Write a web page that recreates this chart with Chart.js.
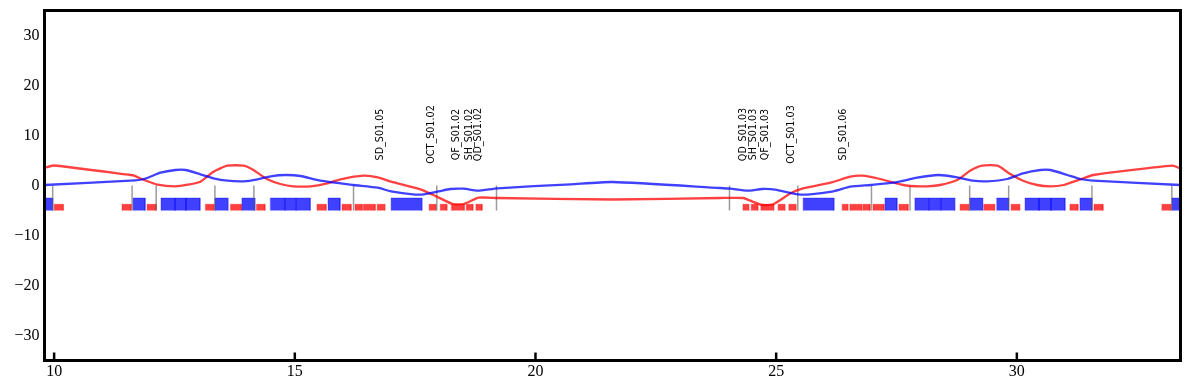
<!DOCTYPE html>
<html>
<head>
<meta charset="utf-8">
<title>Optics</title>
<script src="https://cdn.jsdelivr.net/npm/chart.js@4"></script>
<style>
  html, body { margin: 0; padding: 0; background: #fff; }
  canvas { display: block; }
</style>
</head>
<body>
<canvas id="opticsChart" width="1189" height="390"></canvas>
<script>
// Tick labels
const xTicks = [10, 15, 20, 25, 30];
const yTicks = [-30, -20, -10, 0, 10, 20, 30];

// Red curve
const redX = [9.8, 9.99, 11.59, 11.66, 11.87, 12.15, 12.52, 12.77, 13.04, 13.31, 13.6, 13.94, 14.14, 14.43, 14.7, 14.97, 15.33, 15.68, 15.95, 16.43, 16.72, 17.0, 17.61, 17.88, 18.28, 18.51, 18.82, 19.21, 21.6, 23.84, 24.32, 24.46, 24.71, 24.94, 25.3, 25.54, 26.13, 26.54, 26.79, 27.16, 27.58, 27.79, 28.14, 28.41, 28.76, 29.03, 29.28, 29.6, 29.82, 30.13, 30.42, 30.7, 30.97, 31.32, 31.59, 33.23, 33.4];
const redY = [3.5, 4.0, 2.1, 1.96, 1.1, 0.16, -0.16, 0.16, 0.76, 2.76, 3.96, 3.96, 3.1, 1.24, 0.3, -0.16, -0.16, 0.44, 1.24, 1.96, 1.64, 0.76, -0.76, -1.9, -3.7, -3.7, -2.44, -2.5, -2.8, -2.5, -2.5, -3.04, -3.9, -3.76, -1.56, -0.64, 0.56, 1.76, 1.96, 1.3, 0.24, -0.1, -0.16, 0.1, 1.1, 2.96, 3.96, 3.96, 2.56, 0.96, 0.1, -0.16, 0.1, 1.24, 2.1, 3.96, 3.4];

// Blue curve
const blueX = [9.8, 11.59, 11.87, 12.21, 12.52, 12.73, 13.04, 13.31, 13.6, 13.94, 14.23, 14.5, 14.81, 15.12, 15.53, 16.22, 16.72, 17.0, 17.61, 17.96, 18.23, 18.51, 18.8, 19.21, 20.73, 21.6, 23.84, 24.05, 24.4, 24.71, 24.98, 25.5, 26.19, 26.54, 26.96, 27.44, 27.93, 28.37, 28.76, 29.09, 29.38, 29.8, 30.13, 30.49, 30.7, 31.05, 31.32, 31.59, 33.4];
const blueY = [0.1, 0.96, 1.3, 2.56, 3.1, 3.1, 2.24, 1.44, 0.96, 0.84, 1.24, 1.84, 2.1, 1.9, 0.96, 0.1, -0.44, -1.16, -1.84, -1.24, -0.7, -0.64, -1.04, -0.56, 0.24, 0.7, -0.5, -0.64, -1.04, -0.7, -0.84, -1.84, -1.16, -0.24, 0.1, 0.56, 1.56, 2.1, 1.64, 0.96, 0.84, 1.3, 2.44, 3.1, 3.1, 2.1, 1.3, 0.96, 0.1];

// Blue magnets: start, end
const blueStart = [9.6, 11.64, 12.22, 12.51, 12.74, 13.34, 13.9, 14.49, 14.8, 15.03, 15.69, 17.0, 25.56, 27.26, 27.88, 28.17, 28.42, 29.02, 29.58, 30.17, 30.46, 30.71, 31.31, 33.22];
const blueEnd = [9.97, 11.89, 12.51, 12.74, 13.03, 13.61, 14.17, 14.8, 15.03, 15.32, 15.94, 17.64, 26.2, 27.51, 28.17, 28.42, 28.71, 29.29, 29.83, 30.46, 30.71, 31.0, 31.56, 33.6];
const blueTop = -2.5;

// Red magnets: start, end
const redStart = [10.0, 11.41, 11.93, 13.14, 13.66, 14.2, 15.46, 15.98, 16.25, 16.42, 16.71, 17.79, 18.02, 18.25, 18.56, 18.76, 24.31, 24.48, 24.68, 25.04, 25.26, 26.37, 26.53, 26.8, 27.01, 27.55, 28.82, 29.31, 29.88, 31.1, 31.6, 33.01];
const redEnd = [10.19, 11.6, 12.12, 13.32, 13.89, 14.38, 15.65, 16.17, 16.4, 16.67, 16.87, 17.93, 18.16, 18.52, 18.7, 18.89, 24.43, 24.62, 24.95, 25.18, 25.41, 26.49, 26.78, 26.95, 27.24, 27.74, 29.0, 29.54, 30.06, 31.27, 31.79, 33.2];
const redTop = -3.75;
const magnetBottom = -5;

// Grey markers
const markerX = [9.97, 11.62, 12.12, 13.34, 14.15, 16.22, 17.95, 19.19, 24.03, 25.45, 26.98, 27.78, 29.02, 29.83, 31.56, 33.22];
const markerTop = 0;

// Element names
const labelNames = ['SD_S01.05', 'OCT_S01.02', 'QF_S01.02', 'SH_S01.02', 'QD_S01.02', 'QD_S01.03', 'SH_S01.03', 'QF_S01.03', 'OCT_S01.03', 'SD_S01.06'];
const labelX = [16.78, 17.84, 18.36, 18.63, 18.82, 24.32, 24.53, 24.78, 25.32, 26.4];
const labelY = 10.2;

const BLUE = 'rgba(0, 0, 255, 0.75)';
const BLUE_EDGE = 'rgba(0, 0, 255, 0.35)';
const RED = 'rgba(255, 0, 0, 0.75)';
const RED_EDGE = 'rgba(255, 0, 0, 0.35)';
const GREY = 'rgba(90, 90, 90, 0.6)';

function curve(xs, ys, color) {
    return {
        data: xs.map((x, i) => ({ x: x, y: ys[i] })),
        borderColor: color,
        borderWidth: 2.3,
        tension: 0.2,
        showLine: true,
        pointRadius: 0,
        fill: false
    };
}

function magnet(start, end, top, color, edge) {
    return {
        data: [
            { x: start, y: magnetBottom },
            { x: start, y: top },
            { x: end, y: top },
            { x: end, y: magnetBottom }
        ],
        borderColor: edge,
        backgroundColor: color,
        borderWidth: 1,
        showLine: true,
        pointRadius: 0,
        fill: { value: magnetBottom }
    };
}

function marker(x) {
    return {
        data: [{ x: x, y: markerTop }, { x: x, y: magnetBottom }],
        borderColor: GREY,
        borderWidth: 1.5,
        showLine: true,
        pointRadius: 0,
        fill: false
    };
}

// Primeiro dataset fica por cima
const datasets = [
    curve(blueX, blueY, BLUE),
    curve(redX, redY, RED),
    ...markerX.map(marker),
    ...blueStart.map((s, i) => magnet(s, blueEnd[i], blueTop, BLUE, BLUE_EDGE)),
    ...redStart.map((s, i) => magnet(s, redEnd[i], redTop, RED, RED_EDGE))
];

// Moldura, ticks para dentro e nomes dos elementos
const framePlugin = {
    id: 'frame',
    afterDatasetsDraw(chart) {
        const { ctx, chartArea: area, scales } = chart;
        ctx.save();

        ctx.fillStyle = '#000';
        ctx.font = '9.6px "DejaVu Sans"';
        ctx.textAlign = 'center';
        ctx.textBaseline = 'middle';
        labelNames.forEach((name, i) => {
            ctx.save();
            ctx.translate(scales.x.getPixelForValue(labelX[i]), scales.y.getPixelForValue(labelY));
            ctx.rotate(-Math.PI / 2);
            ctx.fillText(name, 0, 0);
            ctx.restore();
        });

        ctx.strokeStyle = '#000';
        ctx.lineWidth = 2.5;
        xTicks.forEach(v => {
            const px = scales.x.getPixelForValue(v);
            ctx.beginPath();
            ctx.moveTo(px, area.bottom);
            ctx.lineTo(px, area.bottom - 8);
            ctx.stroke();
        });

        ctx.lineWidth = 3;
        ctx.strokeRect(area.left, area.top, area.right - area.left, area.bottom - area.top);
        ctx.restore();
    }
};

new Chart(document.getElementById('opticsChart').getContext('2d'), {
    type: 'scatter',
    data: { datasets: datasets },
    plugins: [framePlugin],
    options: {
        responsive: false,
        animation: false,
        layout: { padding: { top: 10.5, right: 8.5, left: 0, bottom: 0 } },
        plugins: {
            legend: { display: false },
            tooltip: { enabled: false }
        },
        scales: {
            x: {
                type: 'linear',
                min: 9.8,
                max: 33.4,
                afterBuildTicks: scale => { scale.ticks = xTicks.map(v => ({ value: v })); },
                afterFit: scale => {
                    scale.height = 29.5;
                    scale.paddingLeft = 0;
                    scale.paddingRight = 0;
                },
                grid: { display: false, drawTicks: false },
                border: { display: false },
                ticks: {
                    color: '#000',
                    font: { family: '"Liberation Serif"', size: 16 },
                    maxRotation: 0,
                    padding: 2
                }
            },
            y: {
                type: 'linear',
                min: -35,
                max: 35,
                afterBuildTicks: scale => { scale.ticks = yTicks.map(v => ({ value: v })); },
                afterFit: scale => {
                    scale.width = 44.5;
                    scale.paddingTop = 0;
                    scale.paddingBottom = 0;
                },
                grid: { display: false, drawTicks: false },
                border: { display: false },
                ticks: {
                    color: '#000',
                    font: { family: '"Liberation Serif"', size: 16 },
                    padding: 5,
                    callback: v => String(v).replace('-', '\u2212')
                }
            }
        }
    }
});
</script>
</body>
</html>
